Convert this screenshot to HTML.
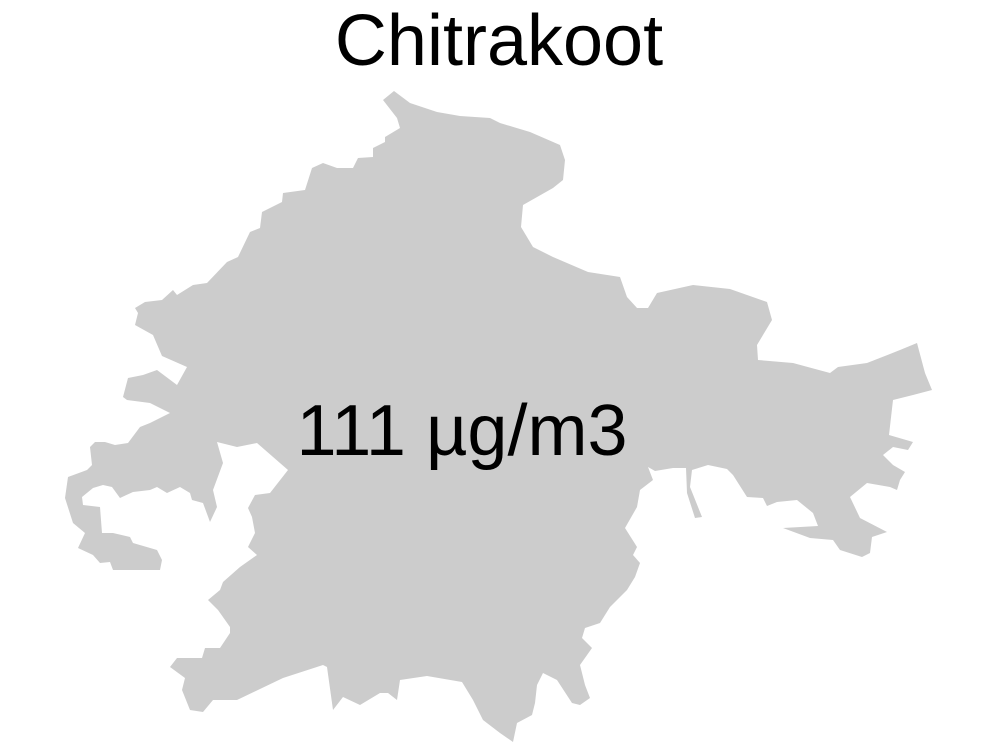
<!DOCTYPE html>
<html><head><meta charset="utf-8"><style>
html,body{margin:0;padding:0;background:#fff;width:997px;height:750px;overflow:hidden}
svg{display:block}
text{font-family:"Liberation Sans",Arial,sans-serif;fill:#000}
</style></head><body>
<svg width="997" height="750" viewBox="0 0 997 750">
<polygon fill="#cccccc" points="394,91 410,103 437,112 460,116 490,118 500,123 530,132 560,145 565,160 563,180 553,188 523,205 521,227 533,247 553,257 588,272 620,277 627,297 637,308 648,308 657,293 693,285 730,289 767,302 772,320 757,345 758,360 793,363 830,373 838,367 867,363 900,350 917,343 925,373 932,390 913,395 893,400 889,435 913,442 908,450 893,447 883,455 893,465 905,472 900,480 897,490 890,487 867,483 850,497 860,518 887,532 872,537 870,553 862,557 840,550 833,540 810,538 783,528 818,526 813,513 797,500 777,502 767,506 763,498 747,497 733,475 727,469 708,465 692,470 690,487 702,517 695,518 687,493 686,468 673,468 655,471 648,467 653,480 640,490 637,507 625,528 637,547 633,555 640,563 635,577 627,590 610,607 600,623 585,628 582,638 592,648 580,665 585,685 590,698 580,705 572,703 557,680 543,673 537,685 535,703 532,715 517,723 513,742 500,733 483,720 473,700 462,682 427,676 400,680 397,700 388,693 380,693 360,705 343,697 333,710 327,667 323,665 283,678 237,700 213,700 203,712 190,710 182,690 185,678 170,667 177,658 202,658 205,648 220,648 230,633 230,627 218,610 208,600 220,590 223,582 240,567 257,555 248,547 255,533 252,517 248,508 255,495 270,493 288,470 257,443 237,447 217,442 223,463 213,490 217,507 210,522 203,503 192,500 190,493 180,487 167,493 157,487 150,490 133,492 120,498 112,487 103,485 93,488 82,497 83,505 100,507 102,533 113,533 130,537 133,543 157,550 162,560 160,570 113,570 110,562 100,563 93,555 78,548 85,533 73,523 65,498 68,477 87,470 92,465 90,447 95,442 105,442 115,445 128,443 140,427 150,423 170,413 150,403 127,400 123,397 128,378 143,375 157,370 177,385 187,367 162,356 153,335 135,325 138,313 135,308 145,302 162,300 173,290 177,295 193,285 207,283 227,262 238,257 250,232 260,228 262,212 282,202 283,193 305,190 312,168 323,163 337,168 353,168 358,158 373,157 373,148 385,142 385,137 400,128 397,118 383,100"/>
<text x="499" y="65" font-size="72" text-anchor="middle">Chitrakoot</text>
<text x="462" y="455" font-size="72" text-anchor="middle">111 µg/m3</text>
</svg>
</body></html>
